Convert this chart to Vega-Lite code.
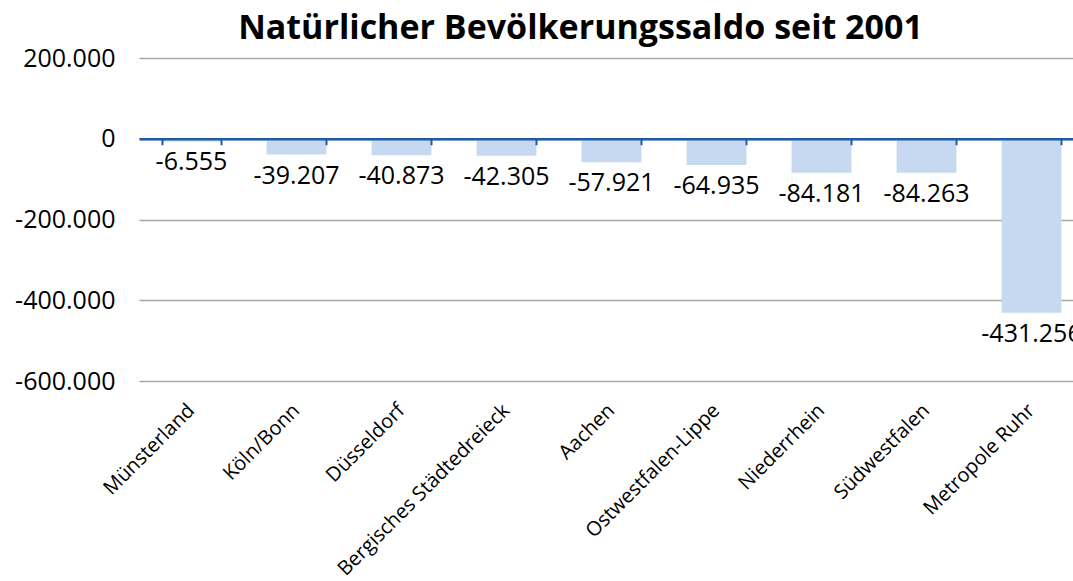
{
  "$schema": "https://vega.github.io/schema/vega-lite/v6.json",
  "width": 945,
  "height": 323,
  "autosize": {"type": "none"},
  "padding": {"left": 139, "top": 58, "right": 0, "bottom": 200},
  "background": "white",
  "config": {
    "locale": {"number": {"decimal": ",", "thousands": ".", "grouping": [3], "currency": ["", " €"], "minus": "-"}},
    "view": {"stroke": null},
    "font": "Open Sans"
  },
  "title": {
    "text": "Natürlicher Bevölkerungssaldo seit 2001",
    "font": "Open Sans",
    "fontSize": 34,
    "fontWeight": "bold",
    "color": "#000000",
    "anchor": "middle",
    "frame": "group",
    "dx": -31,
    "baseline": "alphabetic",
    "offset": -27
  },
  "data": {
    "values": [
      {"region": "Münsterland", "saldo": -6555},
      {"region": "Köln/Bonn", "saldo": -39207},
      {"region": "Düsseldorf", "saldo": -40873},
      {"region": "Bergisches Städtedreieck", "saldo": -42305},
      {"region": "Aachen", "saldo": -57921},
      {"region": "Ostwestfalen-Lippe", "saldo": -64935},
      {"region": "Niederrhein", "saldo": -84181},
      {"region": "Südwestfalen", "saldo": -84263},
      {"region": "Metropole Ruhr", "saldo": -431256}
    ]
  },
  "resolve": {"axis": {"x": "independent"}},
  "layer": [
    {
      "mark": {"type": "bar", "color": "#c6d9f1"},
      "encoding": {
        "x": {
          "field": "region", "type": "nominal", "sort": null,
          "scale": {"paddingInner": 0.43, "paddingOuter": 0.215},
          "axis": {
            "title": null, "orient": "bottom", "domain": false, "ticks": false,
            "labelAngle": -45, "labelAlign": "right", "labelBaseline": "middle",
            "labelFontSize": 20, "labelColor": "#000000", "labelPadding": 26,
            "labelFont": "Open Sans", "labelLimit": 0, "labelOverlap": false
          }
        },
        "y": {
          "field": "saldo", "type": "quantitative",
          "scale": {"domain": [-600000, 200000], "nice": false, "zero": true},
          "axis": {
            "title": null, "values": [-600000, -400000, -200000, 0, 200000],
            "format": ",d", "domain": false, "ticks": false,
            "grid": true, "gridColor": "#a6a6a6", "gridWidth": 1.5,
            "labelFontSize": 25, "labelColor": "#000000", "labelPadding": 24,
            "labelFont": "Open Sans"
          }
        }
      }
    },
    {
      "mark": {"type": "text", "baseline": "top", "dy": 9, "fontSize": 25, "color": "#000000", "font": "Open Sans"},
      "encoding": {
        "x": {
          "field": "region", "type": "nominal", "sort": null,
          "axis": {
            "title": null, "orient": "top", "offset": -80.75, "labels": false,
            "domainColor": "#1f5aa8", "domainWidth": 2.5,
            "tickColor": "#1f5aa8", "tickWidth": 2, "tickSize": -6,
            "tickBand": "extent", "grid": false, "zindex": 2
          }
        },
        "y": {"field": "saldo", "type": "quantitative"},
        "text": {"field": "saldo", "type": "quantitative", "format": ",d"}
      }
    }
  ]
}
